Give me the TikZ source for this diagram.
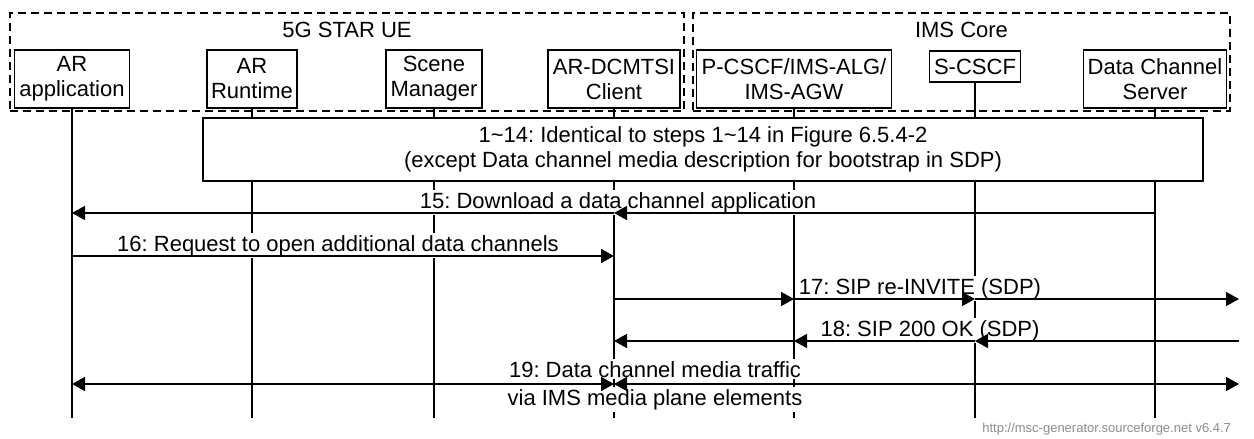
\documentclass[tikz,border=0pt]{standalone}
\usepackage{fontspec}
\setmainfont{Liberation Sans}
\usetikzlibrary{arrows.meta}
\frenchspacing

\begin{document}
\begin{tikzpicture}[x=0.5pt, y=-0.5pt,
    font=\fontsize{11}{12.5}\selectfont,
    entity/.style={draw, line width=0.75pt, align=center, inner sep=0pt},
    group/.style={draw, dash pattern=on 4pt off 2.5pt, line width=0.6pt, inner sep=0pt},
    life/.style={line width=0.75pt},
    msg/.style={line width=0.75pt, -{Triangle[length=6.5pt, width=7pt]}},
    msgboth/.style={line width=0.75pt, {Triangle[length=6.5pt, width=7pt]}-{Triangle[length=6.5pt, width=7pt]}},
    lbl/.style={fill=white, inner sep=1pt, anchor=base}]
    \useasboundingbox (0,0) rectangle (1254,439);

    % The two groups of entities
    \node[group, minimum width=337pt, minimum height=49pt] (ue) at (347,62) {};
    \node[group, minimum width=268.5pt, minimum height=49pt] (ims) at (961.5,62) {};
    \node[anchor=base] (uetitle) at (347,38) {5G STAR UE};
    \node[anchor=base] (imstitle) at (961.5,38) {IMS Core};

    % Entities
    \node[entity, minimum width=57.5pt, minimum height=29pt] (app) at (72,79) {AR\\application};
    \node[entity, minimum width=45pt, minimum height=29pt] (rt) at (252,79) {AR\\Runtime};
    \node[entity, minimum width=48pt, minimum height=29pt] (sm) at (434,79) {Scene\\Manager};
    \node[entity, minimum width=66pt, minimum height=29pt] (client) at (614,79) {AR-DCMTSI\\Client};
    \node[entity, minimum width=97.5pt, minimum height=29pt] (pcscf) at (794,79) {P-CSCF/IMS-ALG/\\IMS-AGW};
    \node[entity, minimum width=45.5pt, minimum height=15.5pt] (scscf) at (975,66.5) {S-CSCF};
    \node[entity, minimum width=71.5pt, minimum height=29pt] (dcs) at (1155,79) {Data Channel\\Server};
    \coordinate (rim) at (1239,0);

    % Lifelines
    \foreach \e in {app,rt,sm,client,pcscf,scscf,dcs}
        \draw[life] (\e.south) -- (\e.south |- 0,418);

    % Steps 1~14
    \node[entity, fill=white, minimum width=500pt, minimum height=31.5pt] (steps) at (703,149.5)
        {1\textasciitilde 14: Identical to steps 1\textasciitilde 14 in Figure 6.5.4-2\\(except Data channel media description for bootstrap in SDP)};

    % Labels
    \node[lbl] (l15) at (618,208) {15: Download a data channel application};
    \node[lbl] (l16) at (338,251) {16: Request to open additional data channels};
    \node[lbl] (l17) at (920,294) {17: SIP re-INVITE (SDP)};
    \node[lbl] (l18) at (930,336) {18: SIP 200 OK (SDP)};
    \node[lbl] (l19) at (655,377) {19: Data channel media traffic};
    \node[lbl] (l19b) at (655,405) {via IMS media plane elements};

    % Messages
    \draw[msg] (dcs |- 0,213) -- (client |- 0,213);
    \draw[msg] (client |- 0,213) -- (app |- 0,213);
    \draw[msg] (app |- 0,256) -- (client |- 0,256);
    \draw[msg] (client |- 0,299) -- (pcscf |- 0,299);
    \draw[msg] (pcscf |- 0,299) -- (scscf |- 0,299);
    \draw[msg] (scscf |- 0,299) -- (rim |- 0,299);
    \draw[msg] (rim |- 0,341) -- (scscf |- 0,341);
    \draw[msg] (scscf |- 0,341) -- (pcscf |- 0,341);
    \draw[msg] (pcscf |- 0,341) -- (client |- 0,341);
    \draw[msgboth] (app |- 0,384) -- (client |- 0,384);
    \draw[msgboth] (client |- 0,384) -- (rim |- 0,384);

    % Generator note
    \node[anchor=base east, text=black!45, font=\fontsize{6.5}{7}\selectfont] (url) at (1238,432)
        {http://msc-generator.sourceforge.net v6.4.7};
\end{tikzpicture}
\end{document}
